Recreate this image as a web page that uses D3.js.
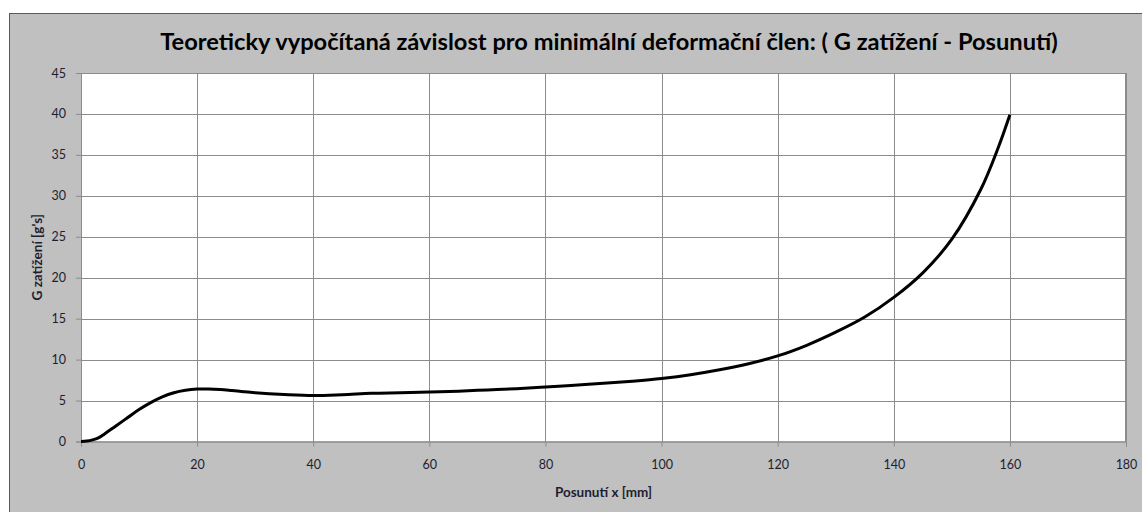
<!DOCTYPE html>
<html><head><meta charset="utf-8">
<script src="https://cdn.jsdelivr.net/npm/d3@7"></script>
<style>
html,body{margin:0;padding:0;background:#fff;}
svg{display:block;}
text{font-family:Lato,"Open Sans",sans-serif;}
</style></head>
<body><svg id="c" width="1142" height="512"></svg>
<script>
const titleText = "Teoreticky vypočítaná závislost pro minimální deformační člen: ( G zatížení - Posunutí)";
const xTitle = "Posunutí x [mm]";
const yTitle = "G zatížení [g's]";
const xTicks = [0,20,40,60,80,100,120,140,160,180];
const yTicks = [0,5,10,15,20,25,30,35,40,45];
const posX = [0,1,2,3,4,6,8,10,12,14,16,18,20,22,24,26,28,30,35,40,45,50,55,60,65,70,75,80,85,90,95,100,105,110,115,120,125,130,135,140,145,150,155,158,160];
const gLoad = [0,0.05,0.2,0.45,0.9,1.9,2.9,3.9,4.75,5.45,5.95,6.25,6.4,6.42,6.35,6.22,6.08,5.96,5.75,5.62,5.72,5.88,5.96,6.05,6.15,6.3,6.45,6.65,6.87,7.1,7.37,7.7,8.15,8.75,9.5,10.45,11.75,13.35,15.2,17.6,20.6,24.7,30.8,35.9,39.9];

const svg = d3.select("#c");
svg.append("rect").attr("x",9.5).attr("y",13.5).attr("width",1142).attr("height",512)
  .attr("fill","#c0c0c0").attr("stroke","#5a5a5a").attr("stroke-width",1);

const L=81, R=1126, T=73, B=441.5;
const x = d3.scaleLinear().domain([0,180]).range([L,R]);
const y = d3.scaleLinear().domain([0,45]).range([B,T]);

svg.append("rect").attr("x",L).attr("y",T).attr("width",R-L).attr("height",B-T).attr("fill","#fff");

svg.append("g").selectAll("line").data(xTicks.slice(1)).join("line")
  .attr("x1",d=>Math.round(x(d))+0.5).attr("x2",d=>Math.round(x(d))+0.5)
  .attr("y1",T).attr("y2",B).attr("stroke","#8c8c8c").attr("stroke-width",1);
svg.append("g").selectAll("line").data(yTicks.slice(1)).join("line")
  .attr("y1",d=>Math.round(y(d))+0.5).attr("y2",d=>Math.round(y(d))+0.5)
  .attr("x1",L).attr("x2",R).attr("stroke","#8c8c8c").attr("stroke-width",1);
svg.append("rect").attr("x",L+0.5).attr("y",T+0.5).attr("width",R-L-1).attr("height",B-T)
  .attr("fill","none").attr("stroke","#8c8c8c");

const xAxis = d3.axisBottom(x).tickValues(xTicks).tickSize(5).tickPadding(14).tickFormat(d3.format("d"));
const yAxis = d3.axisLeft(y).tickValues(yTicks).tickSize(5).tickPadding(10).tickFormat(d3.format("d"));
const gx = svg.append("g").attr("transform",`translate(0,${B})`).call(xAxis);
const gy = svg.append("g").attr("transform",`translate(${L},0)`).call(yAxis);
[gx,gy].forEach(g=>{
  g.select(".domain").attr("stroke","#8c8c8c");
  g.selectAll(".tick line").attr("stroke","#8c8c8c");
  g.selectAll(".tick text").attr("fill","#1e1e30").style("font-size","12.5px").style("font-family","Lato,sans-serif");
});

const line = d3.line().x((d,i)=>x(posX[i])).y(d=>y(d)).curve(d3.curveCatmullRom.alpha(0.5));
svg.append("path").datum(gLoad).attr("d",line).attr("fill","none")
  .attr("stroke","#000").attr("stroke-width",3).attr("stroke-linejoin","round").attr("stroke-linecap","butt");

const t = svg.append("text").attr("x",609).attr("y",50).attr("text-anchor","middle")
  .style("font-weight","bold").style("font-size","20px").attr("fill","#000").text(titleText);
const w = t.node().getComputedTextLength();
t.style("font-size",(20*898/w).toFixed(2)+"px");

svg.append("text").attr("x",(L+R)/2).attr("y",497).attr("text-anchor","middle")
  .style("font-weight","bold").style("font-size","13.5px").attr("fill","#1e1e30").text(xTitle);
svg.append("text").attr("transform",`translate(42,${(T+B)/2}) rotate(-90)`).attr("text-anchor","middle")
  .style("font-weight","bold").style("font-size","13.5px").attr("fill","#1e1e30").text(yTitle);
</script></body></html>
